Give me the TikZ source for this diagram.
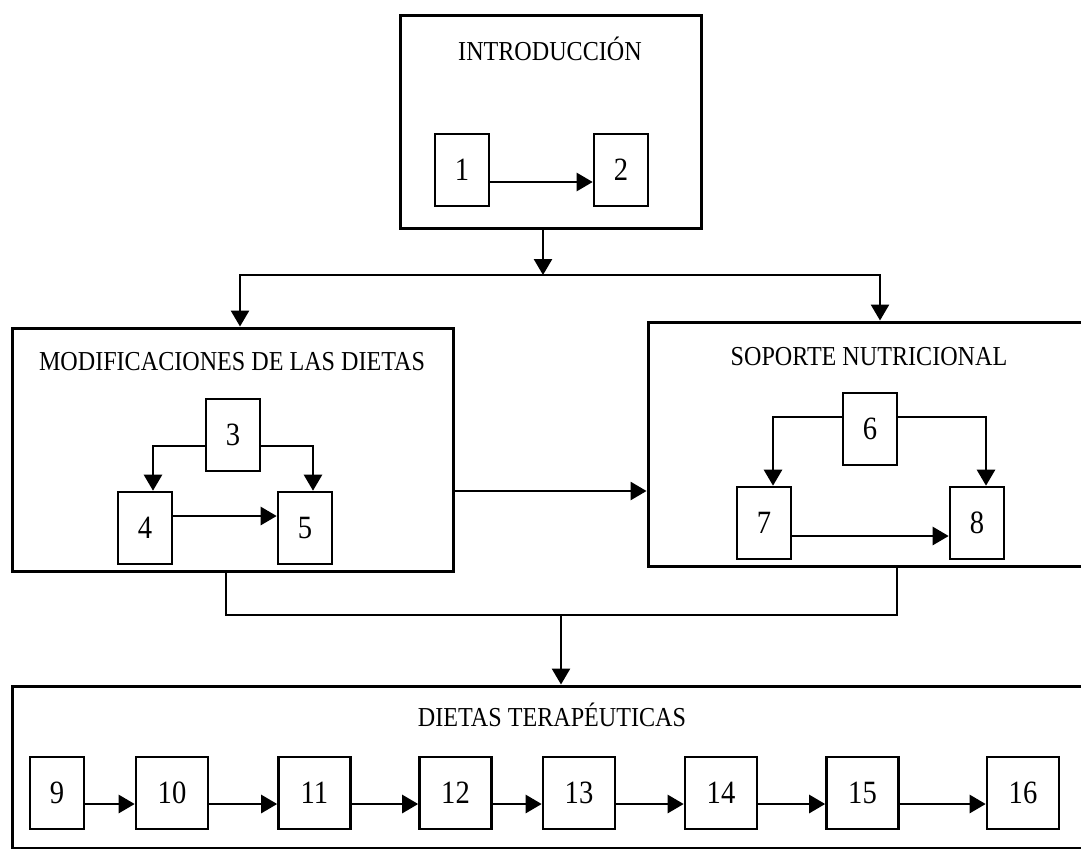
\documentclass[tikz,border=0pt]{standalone}
\usepackage{fontspec}
\setmainfont[FakeStretch=0.88]{Liberation Serif}
\usetikzlibrary{arrows.meta}

\begin{document}
\begin{tikzpicture}[x=0.02cm, y=-0.02cm,
    frame/.style={draw, line width=1.7pt, inner sep=0pt},
    numbox/.style={draw, line width=1.5pt, inner sep=0pt, minimum width=1.08cm, minimum height=1.44cm, font=\fontsize{18.5}{20}\selectfont},
    widebox/.style={numbox, minimum width=1.44cm},
    title/.style={font=\fontsize{15.6}{18}\selectfont},
    link/.style={line width=1.5pt},
    arr/.style={link, -{Triangle[length=0.32cm, width=0.36cm]}}]
  \clip (0,0) rectangle (1081,849);

  % introduccion
  \node[frame, minimum width=6.04cm, minimum height=4.28cm] (intro) at (551,122) {};
  \node[title] (tintro) at (550,49) {INTRODUCCIÓN};
  \node[numbox] (b1) at (462,170) {1};
  \node[numbox] (b2) at (621,170) {2};
  \draw[arr] ([yshift=-0.24cm]b1.east) -- ([yshift=-0.24cm]b2.west);

  % modificaciones
  \node[frame, minimum width=8.84cm, minimum height=4.88cm] (modbox) at (233,450) {};
  \node[title] (tmod) at (232,362) {MODIFICACIONES DE LAS DIETAS};
  \node[numbox] (b3) at (233,435) {3};
  \node[numbox] (b4) at (145,528) {4};
  \node[numbox] (b5) at (305,528) {5};
  \draw[arr] ([yshift=-0.22cm]b3.west) -| ([xshift=0.16cm]b4.north);
  \draw[arr] ([yshift=-0.22cm]b3.east) -| ([xshift=0.16cm]b5.north);
  \draw[arr] ([yshift=0.24cm]b4.east) -- ([yshift=0.24cm]b5.west);

  % soporte
  \node[frame, minimum width=9.24cm, minimum height=4.9cm] (sopbox) at (879,444.5) {};
  \node[title] (tsop) at (869,357) {SOPORTE NUTRICIONAL};
  \node[numbox] (b6) at (870,429) {6};
  \node[numbox] (b7) at (764,523) {7};
  \node[numbox] (b8) at (977,523) {8};
  \draw[arr] ([yshift=0.24cm]b6.west) -| ([xshift=0.18cm]b7.north);
  \draw[arr] ([yshift=0.24cm]b6.east) -| ([xshift=0.18cm]b8.north);
  \draw[arr] ([yshift=-0.26cm]b7.east) -- ([yshift=-0.26cm]b8.west);

  % dietas terapeuticas
  \node[frame, minimum width=21.96cm, minimum height=3.24cm] (dietbox) at (561,767) {};
  \node[title] (tdiet) at (552,715) {DIETAS TERAPÉUTICAS};
  \node[numbox] (b9) at (57,793) {9};
  \node[widebox] (b10) at (172,793) {10};
  \node[widebox] (b11) at (314.5,793) {11};
  \node[widebox] (b12) at (455.5,793) {12};
  \node[widebox] (b13) at (579,793) {13};
  \node[widebox] (b14) at (721,793) {14};
  \node[widebox] (b15) at (862.5,793) {15};
  \node[widebox] (b16) at (1023,793) {16};
  \foreach \a/\b in {9/10,10/11,11/12,12/13,13/14,14/15,15/16}
    \draw[arr] ([yshift=-0.22cm]b\a.east) -- ([yshift=-0.22cm]b\b.west);

  % conexiones entre bloques
  \coordinate (fork) at (543,275);
  \draw[arr] (intro.south -| fork) -- (fork);
  \draw[arr] (fork) -| ([xshift=0.14cm]modbox.north);
  \draw[arr] (fork) -| ([xshift=0.02cm]sopbox.north);
  \draw[arr] ([yshift=-0.82cm]modbox.east) coordinate (ma) -- (sopbox.west |- ma);
  \coordinate (join) at (561,615);
  \draw[link] ([xshift=-0.14cm]modbox.south) |- (join) -| ([xshift=0.36cm]sopbox.south);
  \draw[arr] (join) -- (join |- dietbox.north);
\end{tikzpicture}
\end{document}
